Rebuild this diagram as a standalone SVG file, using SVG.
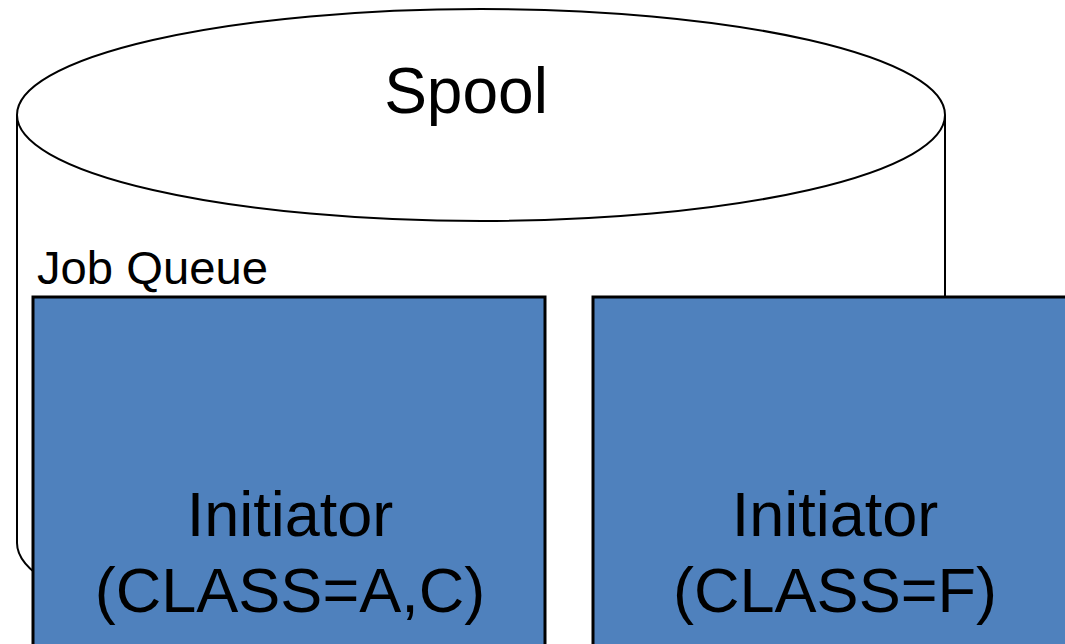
<svg xmlns="http://www.w3.org/2000/svg" width="1065" height="644" viewBox="0 0 1065 644">
<style>
.t{font-family:"Liberation Sans",Arial,sans-serif;fill:#000}
.box{fill:#4F81BD;stroke:#000;stroke-width:3}
.cyl{fill:#fff;stroke:#000;stroke-width:2}
</style>
<rect width="1065" height="644" fill="#fff"/>
<g id="spool">
<path class="cyl" d="M17,115 L17,543 A464,108 0 0 0 945,543 L945,115"/>
<ellipse class="cyl" cx="481" cy="115" rx="464" ry="106"/>
<text class="t" x="466" y="113" font-size="64" text-anchor="middle">Spool</text>
<text class="t" x="37" y="284" font-size="46" textLength="231" lengthAdjust="spacingAndGlyphs">Job Queue</text>
</g>
<g id="initiator1">
<rect class="box" x="33" y="297" width="512" height="360"/>
<text class="t" x="290" y="536" font-size="63" text-anchor="middle">Initiator</text>
<text class="t" x="290" y="612" font-size="63" text-anchor="middle">(CLASS=A,C)</text>
</g>
<g id="initiator2">
<rect class="box" x="593" y="297" width="490" height="360"/>
<text class="t" x="835" y="536" font-size="63" text-anchor="middle">Initiator</text>
<text class="t" x="835" y="612" font-size="63" text-anchor="middle">(CLASS=F)</text>
</g>
<g id="connectors"/>
</svg>
